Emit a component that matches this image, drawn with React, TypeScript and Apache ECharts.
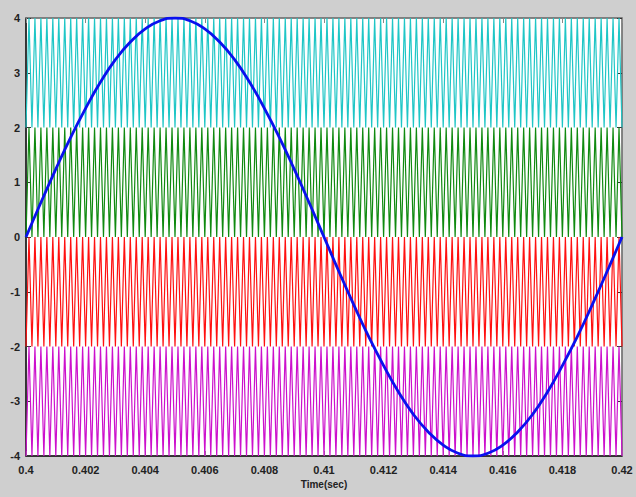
import React, { useEffect, useRef } from "react";
import * as echarts from "echarts";

// Time axis
const tStart = 0.4;
const tEnd = 0.42;
const xTickStep = 0.002;
const yTicks = [-4, -3, -2, -1, 0, 1, 2, 3, 4];

// Carrier bands (low, high) and colours
const carrierBands: [number, number][] = [
  [2, 4],
  [0, 2],
  [-2, 0],
  [-4, -2],
];
const carrierColors = ["#1fc6c6", "#108a10", "#ff1010", "#cc10cc"];
const carrierCycles = 100; // ~5 kHz over 0.02 s

const refStep = 0.0005;
const refValues = [
  0, 0.63, 1.24, 1.82, 2.35, 2.83, 3.24, 3.56, 3.8, 3.95, 4,
  3.95, 3.8, 3.56, 3.24, 2.83, 2.35, 1.82, 1.24, 0.63, 0,
  -0.63, -1.24, -1.82, -2.35, -2.83, -3.24, -3.56, -3.8, -3.95, -4,
  -3.95, -3.8, -3.56, -3.24, -2.83, -2.35, -1.82, -1.24, -0.63, 0,
];

function carrierData(low: number, high: number): [number, number][] {
  const pts: [number, number][] = [];
  const half = (tEnd - tStart) / (carrierCycles * 2);
  for (let k = 0; k <= carrierCycles * 2; k++) {
    pts.push([tStart + k * half, k % 2 === 0 ? low : high]);
  }
  return pts;
}

const fmtX = (v: number) => {
  let s = v.toFixed(3);
  s = s.replace(/0+$/, "").replace(/\.$/, "");
  return s;
};

const font = "'Liberation Sans Narrow', 'Liberation Sans', Arial, sans-serif";

export default function App() {
  const ref = useRef<HTMLDivElement>(null);
  useEffect(() => {
    document.body.style.margin = "0";
    const chart = echarts.init(ref.current!, null, { renderer: "svg" });
    const labelStyle = {
      color: "#222",
      fontFamily: font,
      fontSize: 11,
      fontWeight: "bold" as const,
    };
    const series: any[] = carrierBands.map((b, i) => ({
      type: "line",
      name: "carrier" + i,
      data: carrierData(b[0], b[1]),
      showSymbol: false,
      lineStyle: { color: carrierColors[i], width: 1.2 },
      z: 2,
    }));
    series.push({
      type: "line",
      name: "reference",
      data: refValues.map((v, i) => [tStart + i * refStep, v]),
      smooth: true,
      showSymbol: false,
      lineStyle: { color: "#0a10ee", width: 2.8 },
      z: 5,
    });
    chart.setOption({
      animation: false,
      backgroundColor: "#cfcfcf",
      grid: {
        left: 26,
        right: 14,
        top: 18,
        bottom: 41,
        show: true,
        backgroundColor: "#ffffff",
        borderColor: "#666",
        borderWidth: 1,
      },
      xAxis: [
        {
          type: "value",
          min: tStart,
          max: tEnd,
          interval: xTickStep,
          name: "Time(sec)",
          nameLocation: "middle",
          nameGap: 22,
          nameTextStyle: { ...labelStyle, fontSize: 10 },
          axisLine: { show: true, onZero: false, lineStyle: { color: "#111", width: 1.5 } },
          axisTick: { show: true, inside: true, length: 5, lineStyle: { color: "#888" } },
          axisLabel: { ...labelStyle, formatter: fmtX, margin: 8 },
          splitLine: { show: false },
        },
        {
          type: "value",
          position: "top",
          min: tStart,
          max: tEnd,
          interval: xTickStep,
          axisLine: { show: true, onZero: false, lineStyle: { color: "#777", width: 1.5 } },
          axisTick: { show: true, inside: true, length: 5, lineStyle: { color: "#888" } },
          axisLabel: { show: false },
          splitLine: { show: false },
        },
      ],
      yAxis: [
        {
          type: "value",
          min: -4,
          max: 4,
          interval: 1,
          axisLine: { show: true, onZero: false, lineStyle: { color: "#111", width: 1.5 } },
          axisTick: { show: true, inside: true, length: 5, lineStyle: { color: "#333" } },
          axisLabel: {
            ...labelStyle,
            margin: 6,
            formatter: (v: number) => (yTicks.includes(v) ? String(v) : ""),
          },
          splitLine: { show: false },
        },
        {
          type: "value",
          position: "right",
          min: -4,
          max: 4,
          interval: 1,
          axisLine: { show: true, onZero: false, lineStyle: { color: "#777", width: 1.5 } },
          axisTick: { show: true, inside: true, length: 5, lineStyle: { color: "#333" } },
          axisLabel: { show: false },
          splitLine: { show: false },
        },
      ],
      series,
    });
    return () => chart.dispose();
  }, []);
  return <div ref={ref} style={{ width: 636, height: 497 }} />;
}
